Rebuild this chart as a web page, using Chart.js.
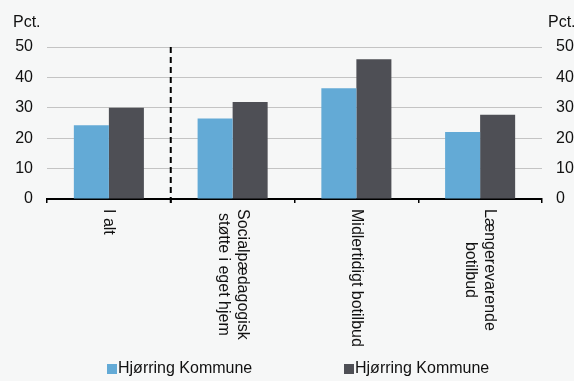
<!DOCTYPE html>
<html>
<head>
<meta charset="utf-8">
<script src="https://cdn.jsdelivr.net/npm/chart.js@4/dist/chart.umd.min.js"></script>
<style>
  html, body { margin: 0; padding: 0; background: #f6f7f7; }
  #wrap { width: 574px; height: 381px; }
</style>
</head>
<body>
<div id="wrap"><canvas id="chart" width="574" height="381"></canvas></div>
<script>
const categories = [['I alt'], ['Socialpædagogisk', 'støtte i eget hjem'], ['Midlertidigt botilbud'], ['Længerevarende', 'botilbud']];
const seriesNames = ['Hjørring Kommune', 'Hjørring Kommune'];
const series1 = [24.3, 26.5, 36.4, 22.0];
const series2 = [30.0, 31.9, 46.0, 27.7];
const yTicks = [0, 10, 20, 30, 40, 50];
const colors = ['#63aad6', '#4e4f55'];
const font = '"Liberation Sans", Arial, sans-serif';

// labels down the axis, dashed line, "Pct." titles and legend
const extras = {
  id: 'extras',
  afterDraw(chart) {
    const c = chart.ctx;
    const x = chart.scales.x;
    const area = chart.chartArea;
    c.save();
    // dashed separator after "I alt"
    const xs = (x.getPixelForValue(0) + x.getPixelForValue(1)) / 2;
    c.strokeStyle = '#000';
    c.lineWidth = 2;
    c.setLineDash([6, 4]);
    c.beginPath();
    c.moveTo(xs, area.top);
    c.lineTo(xs, area.bottom + 4);
    c.stroke();
    c.setLineDash([]);

    c.fillStyle = '#111';
    c.font = '16px ' + font;
    categories.forEach((lines, i) => {
      const px = x.getPixelForValue(i);
      c.save();
      c.translate(px, area.bottom + 10);
      c.rotate(Math.PI / 2);
      c.textAlign = 'center';
      c.textBaseline = 'middle';
      const lh = 19;
      const w = Math.max(...lines.map(l => c.measureText(l).width));
      lines.forEach((l, j) => {
        const off = (j - (lines.length - 1) / 2) * lh;
        c.fillText(l, w / 2, off);
      });
      c.restore();
    });

    c.textAlign = 'left';
    c.textBaseline = 'alphabetic';
    c.fillText('Pct.', 13, 27);
    c.fillText('Pct.', 548, 27);

    // legend
    const lx = [107, 344];
    chart.data.datasets.forEach((ds, i) => {
      c.fillStyle = ds.backgroundColor;
      c.fillRect(lx[i], 364, 10, 10);
      c.fillStyle = '#111';
      c.textBaseline = 'middle';
      c.fillText(ds.label, lx[i] + 11, 369);
    });
    c.restore();
  }
};

new Chart(document.getElementById('chart').getContext('2d'), {
  type: 'bar',
  data: {
    labels: categories,
    datasets: [
      { label: seriesNames[0], data: series1, backgroundColor: colors[0], yAxisID: 'y' },
      { label: seriesNames[1], data: series2, backgroundColor: colors[1], yAxisID: 'y' }
    ]
  },
  options: {
    responsive: false,
    animation: false,
    categoryPercentage: 0.566,
    barPercentage: 1,
    layout: { padding: { top: 47, left: 0, right: 0, bottom: 0 } },
    plugins: {
      legend: { display: false },
      tooltip: { enabled: false }
    },
    scales: {
      x: {
        offset: true,
        grid: { offset: true, drawOnChartArea: false, drawTicks: true, tickLength: 4, color: '#000', lineWidth: 1.5 },
        border: { color: '#000', width: 2 },
        ticks: { display: false },
        afterFit: s => { s.height = 182; }
      },
      y: {
        min: 0, max: 50,
        afterBuildTicks: s => { s.ticks = yTicks.map(v => ({ value: v })); },
        afterFit: s => { s.width = 47; },
        grid: { color: '#c4c4c4', drawTicks: false, lineWidth: 1 },
        border: { display: false },
        ticks: { padding: 14, color: '#111', font: { family: font, size: 16 } }
      },
      y2: {
        position: 'right',
        min: 0, max: 50,
        afterBuildTicks: s => { s.ticks = yTicks.map(v => ({ value: v })); },
        afterFit: s => { s.width = 32; },
        grid: { drawOnChartArea: false, drawTicks: false },
        border: { display: false },
        ticks: { padding: 14, color: '#111', font: { family: font, size: 16 } }
      }
    }
  },
  plugins: [extras]
});
</script>
</body>
</html>
